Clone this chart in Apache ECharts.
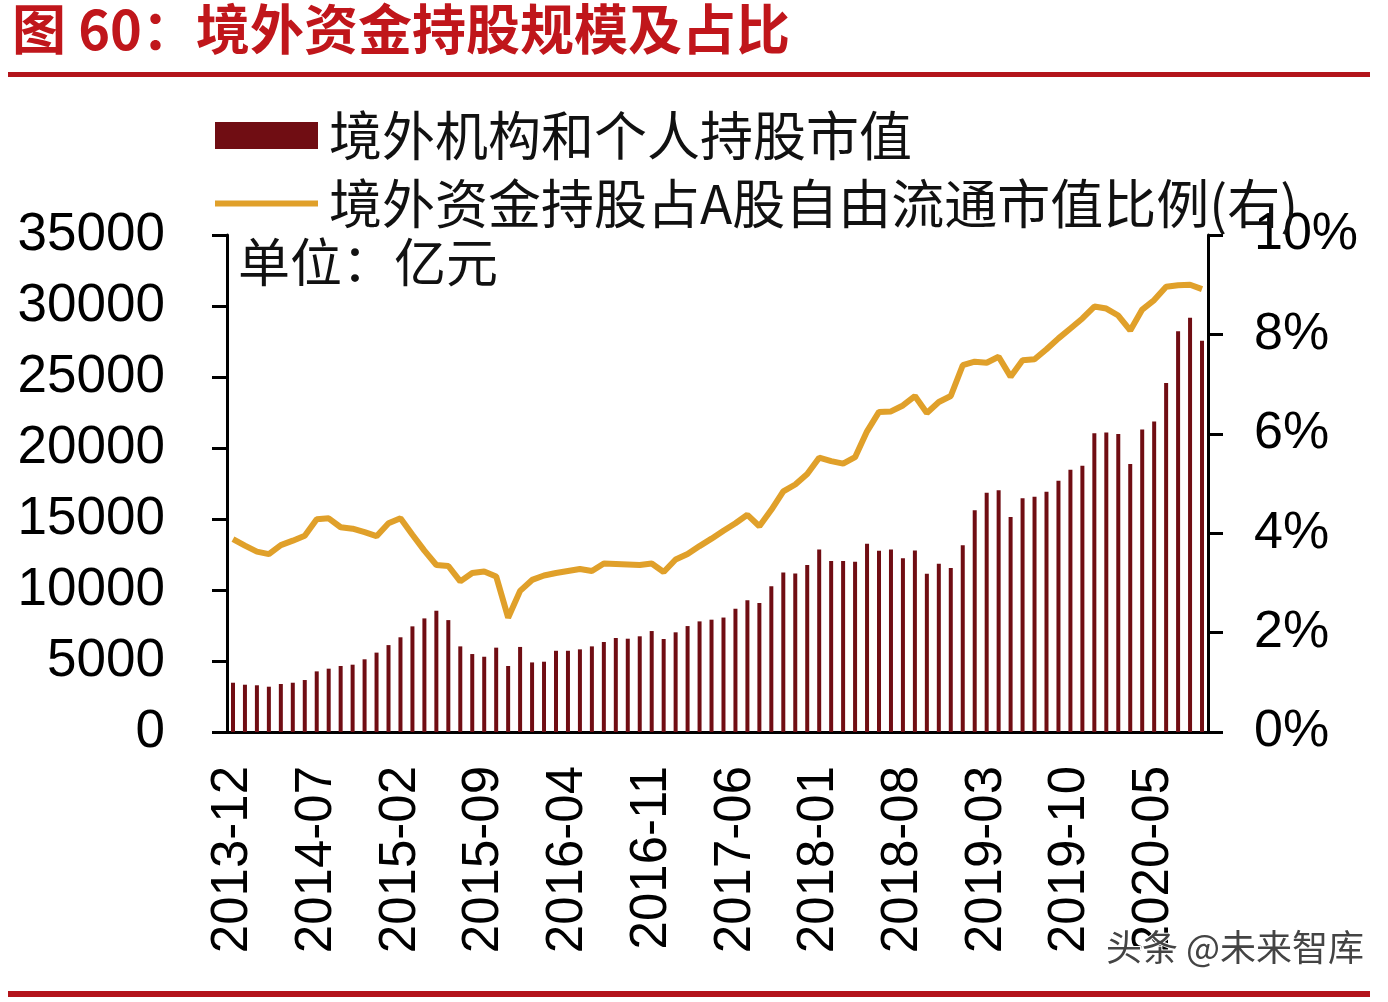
<!DOCTYPE html>
<html>
<head>
<meta charset="utf-8">
<script src="https://cdn.jsdelivr.net/npm/echarts@6/dist/echarts.min.js"></script>
<style>
  html, body { margin: 0; padding: 0; background: #fff; }
  #chart { width: 1388px; height: 1002px; }
</style>
</head>
<body>
<div id="chart"></div>
<script>
// monthly, 2013-12 .. 2020-09
const months = [
  "2013-12",
  "2014-01", "2014-02", "2014-03", "2014-04", "2014-05", "2014-06", "2014-07", "2014-08", "2014-09", "2014-10", "2014-11", "2014-12",
  "2015-01", "2015-02", "2015-03", "2015-04", "2015-05", "2015-06", "2015-07", "2015-08", "2015-09", "2015-10", "2015-11", "2015-12",
  "2016-01", "2016-02", "2016-03", "2016-04", "2016-05", "2016-06", "2016-07", "2016-08", "2016-09", "2016-10", "2016-11", "2016-12",
  "2017-01", "2017-02", "2017-03", "2017-04", "2017-05", "2017-06", "2017-07", "2017-08", "2017-09", "2017-10", "2017-11", "2017-12",
  "2018-01", "2018-02", "2018-03", "2018-04", "2018-05", "2018-06", "2018-07", "2018-08", "2018-09", "2018-10", "2018-11", "2018-12",
  "2019-01", "2019-02", "2019-03", "2019-04", "2019-05", "2019-06", "2019-07", "2019-08", "2019-09", "2019-10", "2019-11", "2019-12",
  "2020-01", "2020-02", "2020-03", "2020-04", "2020-05", "2020-06", "2020-07", "2020-08", "2020-09"
];

// 境外机构和个人持股市值 (亿元)
const holdingValue = [
  3470, 3330, 3290, 3190, 3380, 3470, 3660, 4270, 4460, 4650, 4740, 5120, 5590,
  6120, 6670, 7440, 8000, 8540, 7880, 6030, 5490, 5300, 5940, 4650, 5990,
  4900, 4950, 5720, 5720, 5820, 6030, 6340, 6620, 6570, 6740, 7110, 6550,
  7020, 7460, 7790, 7910, 8060, 8680, 9270, 9080, 10260, 11240, 11170, 11760,
  12860, 12040, 12040, 11990, 13260, 12760, 12860, 12230, 12790, 11150, 11850, 11550,
  13160, 15620, 16850, 17020, 15140, 16470, 16570, 16920, 17690, 18470, 18750, 21030,
  21100, 20980, 18870, 21300, 21870, 24570, 28230, 29170, 27550
];

// 境外资金持股占A股自由流通市值比例 (%)
const holdingRatio = [
  3.88, 3.75, 3.63, 3.58, 3.76, 3.85, 3.95, 4.28, 4.30, 4.12, 4.09, 4.02, 3.94,
  4.20, 4.30, 3.97, 3.65, 3.36, 3.34, 3.03, 3.20, 3.23, 3.13, 2.30, 2.84,
  3.06, 3.15, 3.20, 3.24, 3.28, 3.24, 3.39, 3.38, 3.37, 3.36, 3.39, 3.22,
  3.47, 3.58, 3.74, 3.89, 4.05, 4.20, 4.37, 4.14, 4.47, 4.84, 4.98, 5.19,
  5.52, 5.45, 5.40, 5.53, 6.05, 6.44, 6.45, 6.57, 6.76, 6.42, 6.64, 6.76,
  7.38, 7.45, 7.43, 7.55, 7.15, 7.48, 7.50, 7.70, 7.92, 8.12, 8.32, 8.56,
  8.52, 8.38, 8.08, 8.50, 8.69, 8.96, 8.99, 9.00, 8.91
];

const barName = "境外机构和个人持股市值";
const lineName = "境外资金持股占A股自由流通市值比例(右)";
const barColor = "#700d13";
const lineColor = "#e0a02a";

const cjk = '"Noto Sans CJK SC", sans-serif';
const latin = '"Liberation Sans", Arial, sans-serif';
const axisBlack = { color: "#000", width: 3 };
const legendText = { fontFamily: cjk, fontSize: 53, color: "#111", padding: [0, 0, 0, 6] };

const chart = echarts.init(document.getElementById("chart"), null, { renderer: "canvas" });

chart.setOption({
  backgroundColor: "#fff",
  animation: false,
  grid: { left: 227, right: 180, top: 235, bottom: 270 },
  legend: [
    {
      left: 210, top: 104, orient: "vertical",
      itemWidth: 103, itemHeight: 27,
      textStyle: legendText,
      data: [{ name: barName, icon: "rect" }]
    },
    {
      left: 210, top: 172, orient: "vertical",
      itemWidth: 103, itemHeight: 6,
      textStyle: legendText,
      data: [{ name: lineName, icon: "rect", itemStyle: { color: lineColor } }]
    }
  ],
  xAxis: {
    type: "category",
    data: months,
    boundaryGap: true,
    axisLine: { lineStyle: axisBlack },
    axisTick: { interval: 6, length: 14, lineStyle: axisBlack },
    axisLabel: {
      interval: 6, rotate: 90, margin: 34,
      fontFamily: latin, fontSize: 51, color: "#000"
    }
  },
  yAxis: [
    {
      type: "value", min: 0, max: 35000, interval: 5000,
      splitLine: { show: false },
      axisLine: { show: true, lineStyle: axisBlack },
      axisTick: { show: true, length: 15, lineStyle: axisBlack },
      axisLabel: {
        margin: 62, fontFamily: latin, fontSize: 53, color: "#000",
        formatter: (v) => String(v)
      }
    },
    {
      type: "value", min: 0, max: 10, interval: 2, position: "right",
      splitLine: { show: false },
      axisLine: { show: true, lineStyle: axisBlack },
      axisTick: { show: true, length: 15, lineStyle: axisBlack },
      axisLabel: { margin: 46, fontFamily: latin, fontSize: 52, color: "#000", formatter: "{value}%" }
    }
  ],
  series: [
    {
      name: barName, type: "bar", data: holdingValue,
      barWidth: 4,
      itemStyle: { color: barColor }
    },
    {
      name: lineName, type: "line", yAxisIndex: 1, data: holdingRatio,
      symbol: "none", smooth: false,
      lineStyle: { color: lineColor, width: 6 },
      itemStyle: { color: lineColor },
      z: 3
    }
  ],
  graphic: [
    {
      type: "text", left: 12, top: 2,
      style: { text: "图 60：境外资金持股规模及占比", font: 'bold 54px "Noto Sans CJK SC"', fill: "#c0161b" }
    },
    { type: "rect", shape: { x: 8, y: 72, width: 1362, height: 5 }, style: { fill: "#b3141b" } },
    { type: "rect", shape: { x: 8, y: 991, width: 1362, height: 6 }, style: { fill: "#b3141b" } },
    {
      type: "text", left: 238, top: 236,
      style: { text: "单位：亿元", font: '52px "Noto Sans CJK SC"', fill: "#111" }
    },
    {
      type: "text", left: 1105, top: 928, z: 100,
      style: { text: "头条 @未来智库", font: '36px "Noto Sans CJK SC"', fill: "#444", stroke: "#fff", lineWidth: 2 }
    }
  ]
});
</script>
</body>
</html>
